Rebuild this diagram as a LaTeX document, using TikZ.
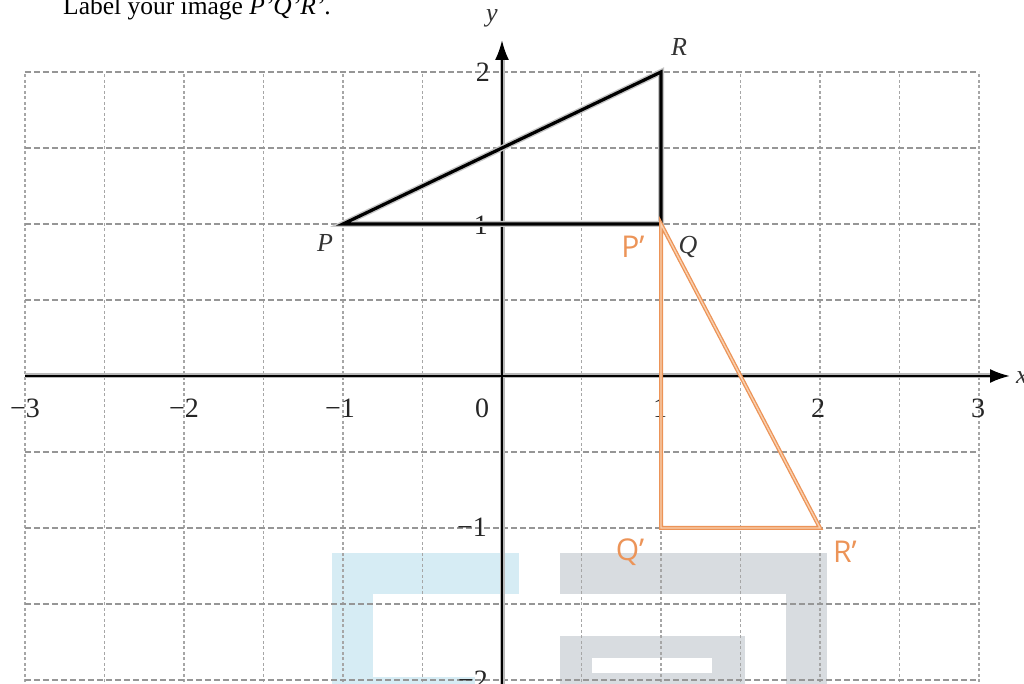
\documentclass[tikz,border=0pt]{standalone}
\usepackage{fontspec}
\setmainfont{Liberation Serif}
\newfontfamily\lblsans{Open Sans}
\usetikzlibrary{arrows.meta}
\definecolor{wmblue}{RGB}{214,236,244}
\definecolor{wmgray}{RGB}{216,220,224}
\definecolor{gridc}{RGB}{150,150,150}
\definecolor{imgorange}{RGB}{236,148,88}
\definecolor{imglight}{RGB}{249,208,175}
\tikzset{
  gridh/.style={gridc, line width=1.4pt, dash pattern=on 6pt off 3pt},
  gridv/.style={gridc!85, line width=1.3pt, dash pattern=on 3pt off 2.5pt},
  axhalo/.style={gray!55, line width=5pt},
  axcore/.style={black, line width=2.4pt},
  trihalo/.style={gray!45, line width=6pt, line join=miter},
  tricore/.style={black, line width=3.2pt, line join=miter},
  imgouter/.style={imgorange, line width=4pt, line join=miter},
  imginner/.style={imglight, line width=1.4pt, line join=miter},
  numlbl/.style={font=\fontsize{28}{32}\selectfont, inner sep=0pt, text=black!85},
  ptlbl/.style={font=\fontsize{26}{30}\selectfont\itshape, inner sep=0pt, text=black!80},
  imglbl/.style={font=\fontsize{30}{34}\lblsans, inner sep=0pt, text=imgorange},
}
\begin{document}
\begin{tikzpicture}[x=159pt,y=152pt]
\useasboundingbox (-502pt,-308pt) rectangle (522pt,376pt);
% watermark
\fill[wmblue] (-170pt,-177pt) rectangle (17pt,-218pt);
\fill[wmblue] (-170pt,-177pt) rectangle (-129pt,-308pt);
\fill[wmblue] (-170pt,-301pt) rectangle (-27pt,-308pt);
\fill[wmgray] (58pt,-177pt) rectangle (325pt,-218pt);
\fill[wmgray] (284pt,-177pt) rectangle (325pt,-308pt);
\fill[wmgray] (58pt,-260pt) rectangle (243pt,-308pt);
\fill[white] (90pt,-282pt) rectangle (210pt,-297pt);
% grid
\foreach \gx in {-3,-2.5,...,3.01} \draw[gridv] (\gx,-2.05) -- (\gx,2);
\foreach \gy in {-2,-1.5,...,2.01} \draw[gridh] (-3,\gy) -- (3,\gy);
% axes
\coordinate (xs) at (-3,0);
\coordinate (xe) at (508pt,0);
\coordinate (ys) at (0,-310pt);
\coordinate (ye) at (0,336pt);
\draw[axhalo] (xs) -- ([xshift=-16pt]xe);
\draw[axhalo] (ys) -- ([yshift=-16pt]ye);
\draw[axcore,-{Latex[length=20pt,width=14pt]}] (xs) -- (xe);
\draw[axcore,-{Latex[length=20pt,width=14pt]}] (ys) -- (ye);
\node[ptlbl, anchor=west] (xl) at (514pt,-2pt) {x};
\node[ptlbl] (yl) at (-10pt,358pt) {y};
% axis numbers
\node[numlbl] (xm3) at (-477pt,-32pt) {−3};
\node[numlbl] (xm2) at (-318pt,-32pt) {−2};
\node[numlbl] (xm1) at (-162pt,-32pt) {−1};
\node[numlbl] (x0) at (-20pt,-32pt) {0};
\node[numlbl] (x1) at (158pt,-32pt) {1};
\node[numlbl] (x2) at (316pt,-32pt) {2};
\node[numlbl] (x3) at (476pt,-32pt) {3};
\node[numlbl, anchor=east] (y2) at (-12pt,304pt) {2};
\node[numlbl, anchor=east] (y1) at (-14pt,151pt) {1};
\node[numlbl, anchor=east] (ym1) at (-15pt,-151pt) {−1};
\node[numlbl, anchor=east] (ym2) at (-14pt,-304pt) {−2};
% original triangle
\coordinate (P) at (-1,1);
\coordinate (Q) at (1,1);
\coordinate (R) at (1,2);
\draw[trihalo] (P) -- (Q) -- (R) -- cycle;
\draw[tricore] (P) -- (Q) -- (R) -- cycle;
% image triangle
\coordinate (P1) at (1,1);
\coordinate (Q1) at (1,-1);
\coordinate (R1) at (2,-1);
\draw[imgouter] (P1) -- (Q1) -- (R1) -- cycle;
\draw[imginner] (P1) -- (Q1) -- (R1) -- cycle;
% labels
\node[ptlbl] (Pl) at (-177pt,133pt) {P};
\node[ptlbl] (Ql) at (186pt,129pt) {Q};
\node[ptlbl] (Rl) at (177pt,329pt) {R};
\node[imglbl] (P1l) at (131pt,129pt) {P’};
\node[imglbl] (Q1l) at (128pt,-176pt) {Q’};
\node[imglbl] (R1l) at (343pt,-176pt) {R’};
% title
\node[anchor=base west, inner sep=0pt, font=\fontsize{25.5}{28}\selectfont] (title) at (-439pt,361pt) {Label your image \textit{P'Q'R'}.};
\end{tikzpicture}
\end{document}
